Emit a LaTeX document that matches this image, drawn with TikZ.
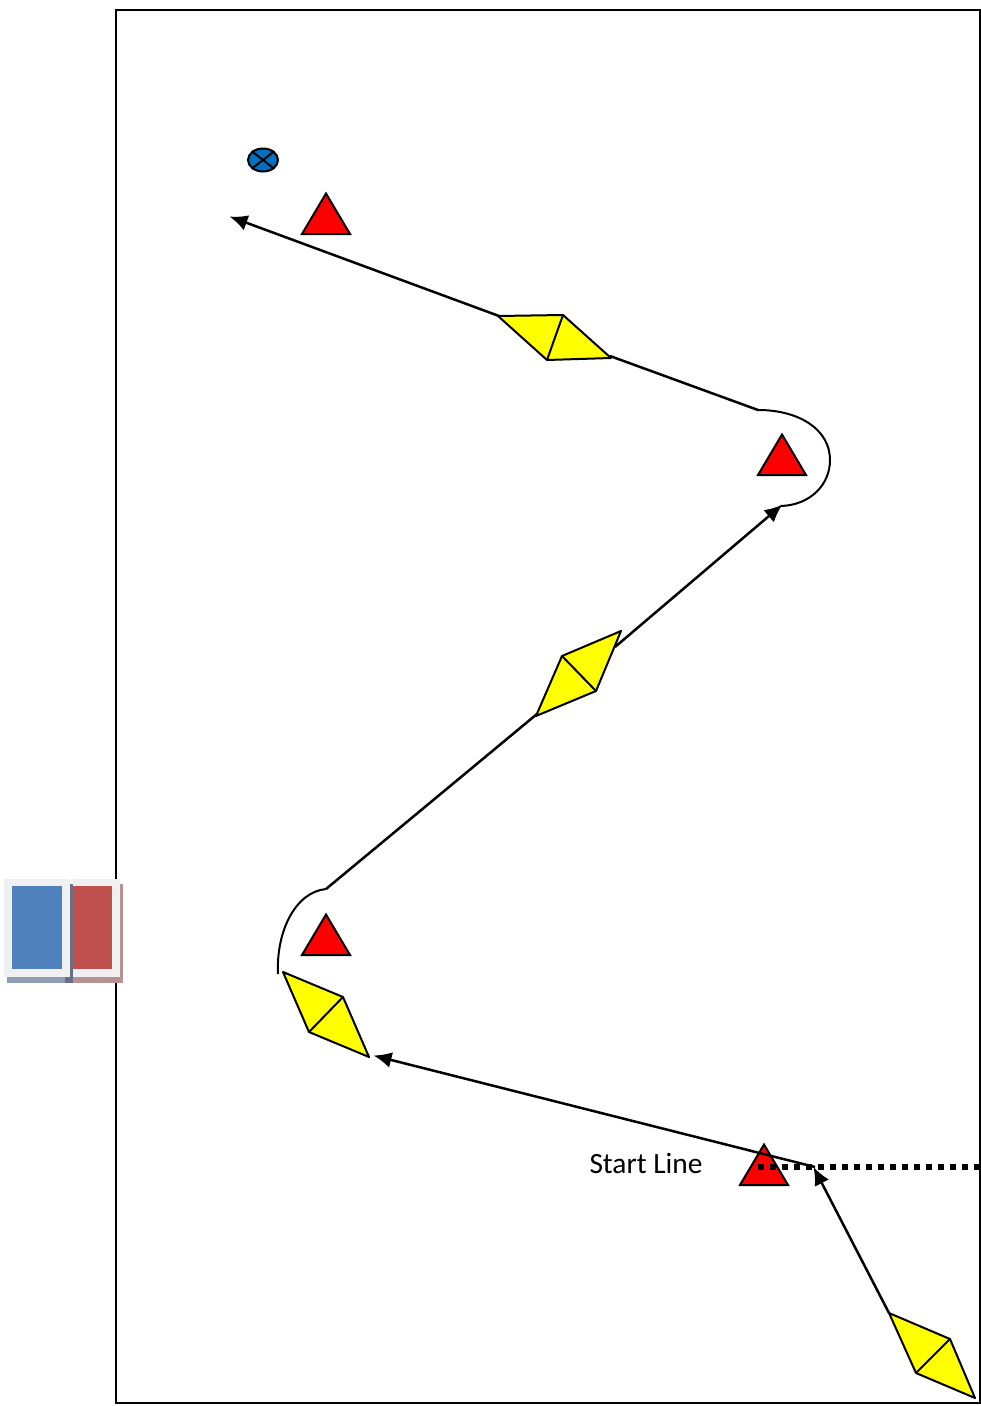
\documentclass[tikz,border=0pt]{standalone}
\usepackage{fontspec}
\setmainfont{Carlito}
\usetikzlibrary{arrows.meta,shapes.geometric}
\definecolor{flagblue}{HTML}{4F81BD}
\definecolor{flagred}{HTML}{C0504D}
\definecolor{frameg}{HTML}{F0F0F0}
\definecolor{shadowb}{HTML}{8D9DB5}
\definecolor{shadowr}{HTML}{B89292}
\definecolor{shadowd}{HTML}{6A6F88}
\definecolor{markblue}{HTML}{0070C0}
\definecolor{boatyellow}{HTML}{FFFF00}
\definecolor{buoyred}{HTML}{FF0000}
\tikzset{
  x=1pt,y=-1pt,
  outline/.style={draw=black,line width=2pt,line join=round},
  course/.style={draw=black,line width=2.5pt,line join=round},
  arrowed/.style={course,-{Latex[length=18pt,width=16pt]}},
  curveline/.style={draw=black,line width=2pt},
  buoy/.style={outline,fill=buoyred,line width=2pt,line join=miter},
  boat/.style={outline,fill=boatyellow},
  startdots/.style={draw=black,line width=5.5pt,dash pattern=on 6pt off 6pt},
  textlabel/.style={font=\fontsize{29.4}{34}\selectfont,inner sep=0pt,anchor=center}
}
\newcommand{\markbuoy}[2]{\draw[buoy] (#1,#2-20.5) -- (#1+24,#2+20) -- (#1-24,#2+20) -- cycle;}
\begin{document}
\begin{tikzpicture}
\useasboundingbox (0,0) rectangle (981,1406);
% course area
\draw[draw=black,line width=2.4pt] (116,10) rectangle (980,1403);
% flag block
\fill[shadowb] (7,977) rectangle (70,982.7);
\fill[shadowr] (72,977) rectangle (122.7,982.7);
\fill[shadowr] (120,884) rectangle (122.7,982.7);
\fill[frameg] (4,879) rectangle (70,977);
\fill[frameg] (72.7,879) rectangle (120,977);
\fill[shadowd] (70,884) rectangle (72.7,982.7);
\fill[shadowd] (65,977) rectangle (72.7,982.7);
\fill[flagblue] (12,886) rectangle (62,969);
\fill[flagred] (72.7,886) rectangle (112,969);
% named points of the course
\coordinate (startboat) at (889,1313);
\coordinate (turnA) at (813.5,1167);
\coordinate (turnB) at (815,1167);
\coordinate (boatB) at (373.5,1055.5);
\coordinate (boatCtail) at (278,974);
\coordinate (boatCtop) at (326,889);
\coordinate (boatDlow) at (537,714);
\coordinate (boatDhigh) at (615,647);
\coordinate (markNtip) at (782.5,504.5);
\coordinate (markNend) at (781,506);
\coordinate (markNtop) at (758,410);
\coordinate (boatEhigh) at (610,356);
\coordinate (boatElow) at (499,316);
\coordinate (finish) at (229.5,216.5);
\coordinate (startR) at (980,1167);
\coordinate (startL) at (758,1167);
% marks
\markbuoy{326}{214}
\markbuoy{782}{455}
\markbuoy{326}{935}
\markbuoy{764}{1165}
% connectors
\draw[arrowed] (startboat) -- (turnA);
\draw[arrowed] (turnB) -- (boatB);
\draw[startdots] (startL) -- (startR);
\draw[curveline] (boatCtail) .. controls (276,932) and (295,892) .. (boatCtop);
\draw[course] (boatCtop) -- (boatDlow);
\draw[arrowed] (boatDhigh) -- (markNtip);
\draw[curveline] (markNend) .. controls (810,505) and (830,485) .. (830,460) .. controls (830,430) and (800,410) .. (markNtop);
\draw[course] (markNtop) -- (boatEhigh);
\draw[arrowed] (boatElow) -- (finish);
% boats
\draw[boat] (889,1313) -- (950,1339) -- (975,1398) -- (916,1373) -- cycle;
\draw[outline] (950,1339) -- (916,1373);
\draw[boat] (283,972) -- (343,997) -- (369,1057) -- (309,1032) -- cycle;
\draw[outline] (343,997) -- (309,1032);
\draw[boat] (536,716) -- (562,656) -- (621,631) -- (596,691) -- cycle;
\draw[outline] (562,656) -- (596,691);
\draw[boat] (498,316) -- (563,315) -- (611,358) -- (547,360) -- cycle;
\draw[outline] (563,315) -- (547,360);
% finish mark
\node[draw=black,line width=2pt,fill=markblue,ellipse,minimum width=30pt,minimum height=23pt,inner sep=0pt] (fin) at (263,160) {};
\draw[line width=2pt] (fin.north west) -- (fin.south east) (fin.north east) -- (fin.south west);
\node[textlabel] (startlabel) at (646,1163) {Start Line};
\end{tikzpicture}
\end{document}
